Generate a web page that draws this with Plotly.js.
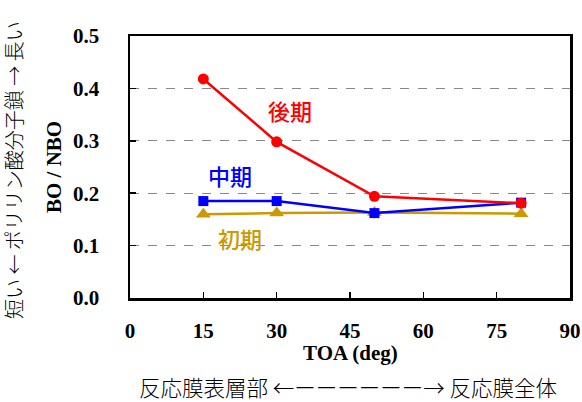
<!DOCTYPE html>
<html><head><meta charset="utf-8">
<script src="https://cdn.plot.ly/plotly-3.0.1.min.js"></script>
<style>body{margin:0;background:#fff}#c{width:582px;height:402px}</style>
</head><body><div id="c"></div>
<script>
const toa = [15, 30, 50, 80];
const late = [0.418, 0.298, 0.194, 0.181];
const mid = [0.185, 0.185, 0.162, 0.182];
const early = [0.160, 0.162, 0.163, 0.161];
const seriesNames = ['後期', '中期', '初期'];
const xTicks = [0, 15, 30, 45, 60, 75, 90];
const yTicks = [0.0, 0.1, 0.2, 0.3, 0.4, 0.5];

const serif = 'Liberation Serif, Times New Roman, serif';
const jp = 'Noto Sans CJK JP, sans-serif';
const colors = ['#FF0000', '#0000FF', '#CC9900'];

const traces = [
  {x: toa, y: early, name: seriesNames[2], mode: 'lines+markers',
   line: {color: colors[2], width: 2.5}, marker: {symbol: 'triangle-up', size: 13, color: colors[2]}},
  {x: toa, y: mid, name: seriesNames[1], mode: 'lines+markers',
   line: {color: colors[1], width: 2.5}, marker: {symbol: 'square', size: 10, color: colors[1]}},
  {x: toa, y: late, name: seriesNames[0], mode: 'lines+markers',
   line: {color: colors[0], width: 2.5}, marker: {symbol: 'circle', size: 11, color: colors[0]}}
];

const L = 130, R = 12, T = 36, B = 104, W = 582, H = 402;
const pw = W - L - R, ph = H - T - B;
const px = v => (v - L) / pw;
const py = v => (H - B - v) / ph;

const layout = {
  width: W, height: H,
  margin: {l: L, r: R, t: T, b: B},
  paper_bgcolor: '#fff', plot_bgcolor: '#fff',
  showlegend: false,
  xaxis: {
    range: [0, 90], tickvals: xTicks, ticktext: xTicks.map(String),
    ticks: 'inside', ticklen: 6, tickwidth: 1.5, tickcolor: '#000',
    showline: true, linecolor: '#000', linewidth: 2.5, mirror: true,
    showgrid: false, zeroline: false,
    tickfont: {family: serif, size: 21, color: '#000', weight: 'bold'},
    ticklabelstandoff: 12
  },
  yaxis: {
    range: [0, 0.5], tickvals: yTicks, ticktext: yTicks.map(v => v.toFixed(1)),
    ticks: 'inside', ticklen: 6, tickwidth: 1.5, tickcolor: '#000',
    showline: true, linecolor: '#000', linewidth: 2.5, mirror: true,
    showgrid: true, gridcolor: '#888', griddash: 'dash', gridwidth: 1.3,
    zeroline: false,
    tickfont: {family: serif, size: 21, color: '#000', weight: 'bold'},
    ticklabelstandoff: 24
  },
  annotations: [
    {x: 32.7, y: 0.359, xref: 'x', yref: 'y', text: seriesNames[0], showarrow: false,
     font: {family: jp, size: 22, color: colors[0], weight: 500}},
    {x: 20.5, y: 0.234, xref: 'x', yref: 'y', text: seriesNames[1], showarrow: false,
     font: {family: jp, size: 22, color: colors[1], weight: 500}},
    {x: 22.5, y: 0.115, xref: 'x', yref: 'y', text: seriesNames[2], showarrow: false,
     font: {family: jp, size: 22, color: colors[2], weight: 500}},
    {x: px(13), y: py(170), xref: 'paper', yref: 'paper', xanchor: 'center', yanchor: 'middle',
     text: '短い ← ポリリン酸分子鎖 → 長い', borderpad: 0,
     showarrow: false, textangle: -90, font: {family: jp, size: 20, color: '#000', weight: 300}},
    {x: px(348), y: py(386), xref: 'paper', yref: 'paper', xanchor: 'center', yanchor: 'middle',
     text: '反応膜表層部 ←ーーーーーー→ 反応膜全体', borderpad: 0,
     showarrow: false, font: {family: jp, size: 21.5, color: '#000', weight: 300}},
    {x: px(350), y: py(353), xref: 'paper', yref: 'paper', xanchor: 'center', yanchor: 'middle',
     text: 'TOA (deg)', showarrow: false,
     font: {family: serif, size: 21, color: '#000', weight: 'bold'}},
    {x: px(54), y: py(167), xref: 'paper', yref: 'paper', xanchor: 'center', yanchor: 'middle',
     text: 'BO / NBO', showarrow: false, textangle: -90,
     font: {family: serif, size: 21, color: '#000', weight: 'bold'}}
  ]
};

Plotly.newPlot('c', traces, layout, {displayModeBar: false, staticPlot: true});
</script></body></html>
